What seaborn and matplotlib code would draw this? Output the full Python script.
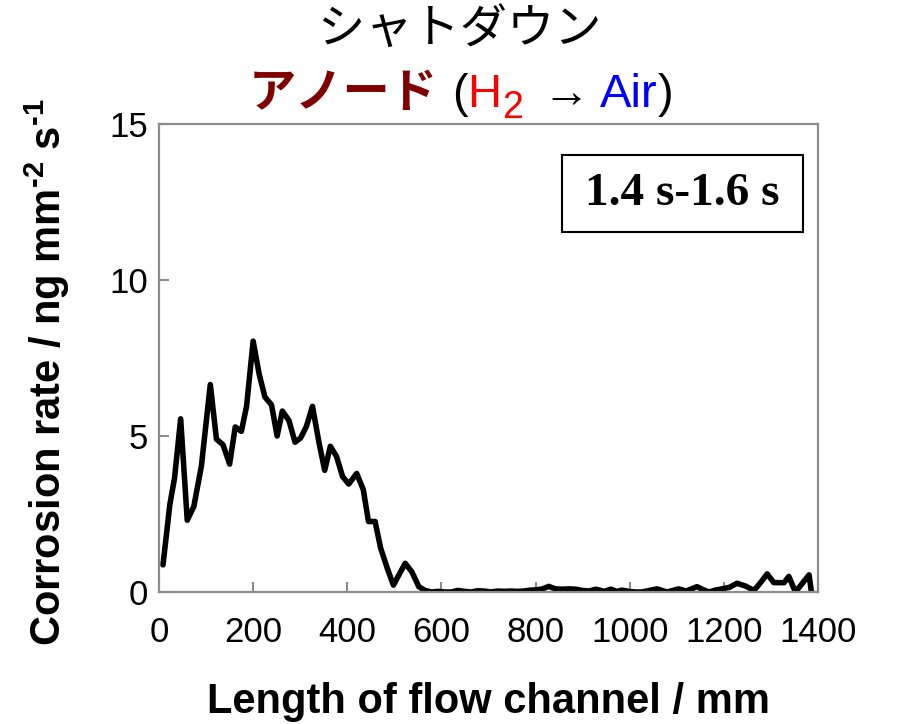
import matplotlib
matplotlib.use("Agg")
import matplotlib.pyplot as plt
import seaborn as sns
import pandas as pd
from matplotlib.patches import Rectangle

# Corrosion rate along the anode flow channel, 1.4 s - 1.6 s window
length_mm = [
    8.5, 23, 33, 46, 60, 74, 90, 109, 122, 136, 150, 162, 175, 186, 200,
    213, 225, 239, 251, 262, 276, 289, 301, 313, 326, 340, 352, 364, 377,
    390, 403, 420, 434, 445, 459, 471, 485, 498, 523, 537, 552, 565, 579,
    593, 607, 621, 635, 649, 663, 677, 691, 705, 719, 733, 747, 761, 775,
    789, 803, 815, 828, 842, 857, 871, 885, 899, 913, 928, 946, 960, 972,
    984, 998, 1012, 1026, 1042, 1058, 1079, 1092, 1104, 1120, 1143, 1155,
    1168, 1182, 1196, 1212, 1228, 1246, 1264, 1278, 1292, 1306, 1318, 1328,
    1338, 1352, 1368, 1381, 1386,
]
corrosion_rate = [
    0.87, 2.8, 3.65, 5.55, 2.3, 2.74, 4.03, 6.65, 4.9, 4.72, 4.1, 5.29,
    5.15, 5.95, 8.04, 6.97, 6.25, 6.0, 5.0, 5.8, 5.5, 4.8, 4.94, 5.3, 5.95,
    4.78, 3.9, 4.67, 4.35, 3.7, 3.46, 3.8, 3.28, 2.26, 2.26, 1.4, 0.76,
    0.22, 0.92, 0.65, 0.17, 0.05, 0.0, 0.02, 0.0, 0.0, 0.05, 0.02, 0.0,
    0.04, 0.03, 0.0, 0.03, 0.02, 0.03, 0.02, 0.03, 0.06, 0.07, 0.1, 0.18,
    0.1, 0.09, 0.1, 0.09, 0.05, 0.03, 0.09, 0.02, 0.09, 0.02, 0.06, 0.02,
    0.0, 0.0, 0.05, 0.1, 0.0, 0.05, 0.1, 0.03, 0.17, 0.08, 0.0, 0.06, 0.1,
    0.15, 0.28, 0.19, 0.05, 0.3, 0.58, 0.3, 0.3, 0.3, 0.5, 0.0, 0.3, 0.55,
    0.0,
]
x_ticks = [0, 200, 400, 600, 800, 1000, 1200, 1400]
y_ticks = [0, 5, 10, 15]

title_line1 = "シャトダウン"
electrode = "アノード"
time_window = "1.4 s-1.6 s"

sns.set_style("ticks")
plt.rcParams["font.family"] = ["Liberation Sans", "DejaVu Sans"]
plt.rcParams["text.color"] = "black"
plt.rcParams["axes.labelcolor"] = "black"
plt.rcParams["mathtext.fontset"] = "custom"
plt.rcParams["mathtext.rm"] = "Liberation Sans:bold"
plt.rcParams["mathtext.bf"] = "Liberation Sans:bold"

df = pd.DataFrame({"length": length_mm, "rate": corrosion_rate})

fig = plt.figure(figsize=(8.99, 7.24), dpi=100)
ax = fig.add_axes([159 / 899, 1 - 592 / 724, (818 - 159) / 899, (592 - 124) / 724])

sns.lineplot(data=df, x="length", y="rate", ax=ax, color="black",
             linewidth=4.0, sort=False, estimator=None)

ax.set_xlim(0, 1400)
ax.set_ylim(0, 15)
ax.set_xticks(x_ticks)
ax.set_yticks(y_ticks)

spine_grey = "#8c8c8c"
for s in ax.spines.values():
    s.set_visible(True)
    s.set_color(spine_grey)
    s.set_linewidth(1.6)
ax.tick_params(axis="both", direction="in", length=7, width=1.5,
               color=spine_grey, labelsize=25, labelcolor="black")
ax.tick_params(axis="x", pad=17)
ax.tick_params(axis="y", pad=8)

ax.set_xlabel("Length of flow channel / mm", fontsize=30, fontweight="bold",
              labelpad=24)
ax.set_ylabel(r"Corrosion rate / ng mm$^{\text{-2}}$ s$^{\text{-1}}$",
              fontsize=30, fontweight="bold", labelpad=27)
ax.yaxis.label.set_y(0.47)

# time window label in a framed box
ax.add_patch(Rectangle(((561.7 - 159) / 659, 1 - (231.7 - 124) / 468),
                       (803.3 - 561.7) / 659, (231.7 - 155) / 468,
                       transform=ax.transAxes, fill=False,
                       edgecolor="black", linewidth=1.5, zorder=5))
ax.text((682 - 159) / 659, 1 - (194 - 124) / 468, time_window,
        transform=ax.transAxes, ha="center", va="center",
        fontsize=34, fontweight="bold", family="Liberation Serif", zorder=6)

# two-line heading
W, H = 899, 724
fig.text(460 / W, 1 - 31 / H, title_line1, ha="center", va="center",
         fontsize=34, color="black", family=["Noto Sans CJK JP", "DejaVu Sans"])

renderer = fig.canvas.get_renderer()
latin = ["Liberation Sans", "DejaVu Sans"]
pieces = [
    (electrode, dict(fontsize=34, fontweight="bold", color="#800000",
                     family=["Noto Sans CJK JP", "DejaVu Sans"]), 0, 14),
    ("(", dict(fontsize=34, color="black", family=latin), 0, 0),
    ("H", dict(fontsize=34, color="#ff0000", family=latin), 0, 0),
    ("2", dict(fontsize=27, color="#ff0000", family=latin), -11, 20),
    ("→", dict(fontsize=34, color="black", family=latin), 0, 10),
    ("Air", dict(fontsize=34, color="#0000ff", family=latin), 0, 0),
    (")", dict(fontsize=34, color="black", family=latin), 0, 0),
]
baseline = 107
made = []
for txt, kw, dy, gap in pieces:
    t = fig.text(0, 1 - (baseline - dy) / H, txt, ha="left", va="baseline", **kw)
    w = t.get_window_extent(renderer).width
    made.append((t, w, gap))
total = sum(w + g for _, w, g in made) - made[-1][2]
x = 461 - total / 2
for t, w, gap in made:
    t.set_x(x / W)
    x += w + gap

fig.savefig("out.png", dpi=100)
